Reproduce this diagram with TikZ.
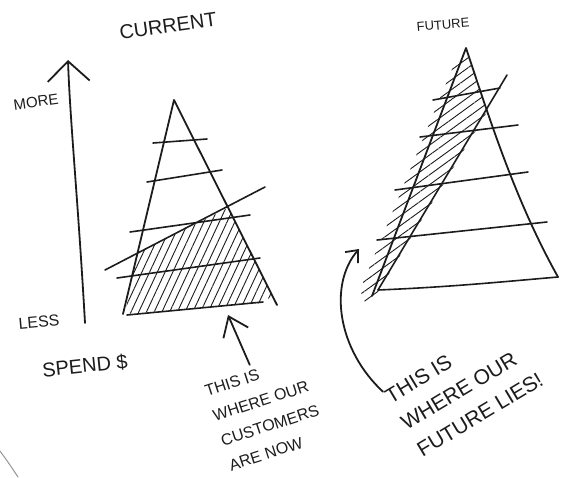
\documentclass[tikz,border=0pt]{standalone}
\usepackage{fontspec}
\setmainfont{Liberation Sans}
\usepackage{tikz}
\usetikzlibrary{arrows.meta,patterns.meta,calc}
\usepackage{xcolor}
\definecolor{ink}{RGB}{28,28,28}
\definecolor{edgegrey}{RGB}{150,150,150}

\begin{document}
\begin{tikzpicture}[x=1pt, y=-1pt,
    pen/.style={ink, line width=1.8pt, line cap=round, line join=round},
    rung/.style={ink, line width=1.6pt, line cap=round},
    pointer/.style={pen, -{Straight Barb[length=18pt,width=27pt,line width=1.8pt]}},
    hand/.style={ink, inner sep=0pt, align=left}]
    \useasboundingbox (0,0) rectangle (561,477);

    % ── Spend axis ────────────────────────────────────────────────────
    \coordinate (axtop) at (68,60);
    \coordinate (axbot) at (85,323);
    \draw[pen, -{Straight Barb[length=20pt,width=42pt,line width=1.8pt]}]
      (axbot) .. controls (78,200) and (70,120) .. (axtop);
    \node[hand, font=\fontsize{15}{15}\selectfont, rotate=8] (more) at (36,102) {MORE};
    \node[hand, font=\fontsize{16}{16}\selectfont, rotate=5] (less) at (39,322) {LESS};
    \node[hand, font=\fontsize{20}{20}\selectfont, rotate=6] (spend) at (85,366) {SPEND \$};

    % ── Current pyramid ───────────────────────────────────────────────
    \node[hand, font=\fontsize{20}{20}\selectfont, rotate=8] (curtitle) at (168,26) {CURRENT};
    % hatched customer zone
    \fill[pattern={Lines[angle=65,distance=7pt,line width=0.9pt]}, pattern color=ink]
      (137,253) -- (228,208) -- (272,296) -- (262,303) -- (125,314) -- cycle;
    \draw[pen] (123,314) -- (174,100) -- (277,305);
    \foreach \xa/\ya/\xb/\yb in {153/143/207/139, 147/182/222/170,
        130/232/250/215, 117/278/260/258, 127/315/263/302}{
      \draw[rung] (\xa,\ya) -- (\xb,\yb);
    }
    \draw[rung] (105,270) -- (265,187);

    % ── Future pyramid ────────────────────────────────────────────────
    \node[hand, font=\fontsize{13}{13}\selectfont, rotate=5] (futtitle) at (443,25) {FUTURE};
    % hatched band along the left side
    \fill[pattern={Lines[angle=36,distance=8pt,line width=0.9pt]}, pattern color=ink]
      (466,50) -- (487,112) -- (378,292) -- (366,305) -- (360,290) -- (455,62) -- cycle;
    \draw[pen] (372,296) -- (466,48) .. controls (490,120) and (515,200) .. (558,277);
    \draw[rung] (378,290) .. controls (450,287) and (500,282) .. (558,277);
    \foreach \xa/\ya/\xb/\yb in {433/100/500/88, 420/137/518/125,
        395/190/528/172, 377/240/547/222}{
      \draw[rung] (\xa,\ya) -- (\xb,\yb);
    }
    \draw[rung] (507,75) -- (378,290);

    % ── Notes ─────────────────────────────────────────────────────────
    \node[hand, font=\fontsize{16}{26}\selectfont, rotate=18] (nownote) at (266,413)
      {THIS IS\\WHERE OUR\\CUSTOMERS\\ARE NOW};
    \coordinate (nowtip) at (228,315);
    \draw[pointer, shorten <=6pt] (nownote.north) -- (nowtip);

    \node[hand, font=\fontsize{21}{31}\selectfont, rotate=31] (futnote) at (464,388)
      {THIS IS\\WHERE OUR\\FUTURE LIES!};
    \coordinate (futtip) at (359,249);
    \draw[pen, -{Straight Barb[length=10pt,width=17pt,line width=1.8pt]}]
      (futnote.north west) .. controls (338,350) and (328,285) .. (futtip);

    % paper edge
    \draw[edgegrey, line width=1pt] (0,451) .. controls (8,462) .. (18,477);
\end{tikzpicture}
\end{document}
